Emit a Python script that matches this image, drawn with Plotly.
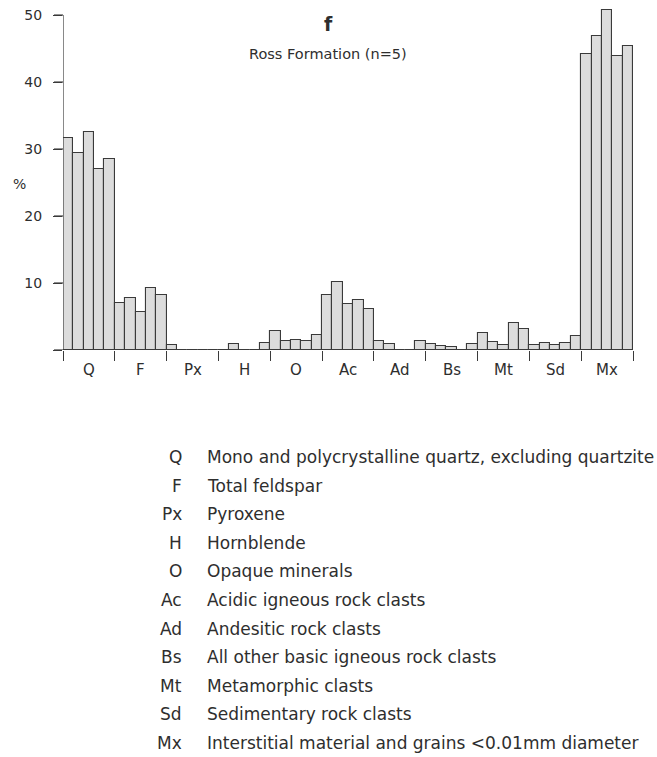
import plotly.graph_objects as go

categories = ["Q", "F", "Px", "H", "O", "Ac", "Ad", "Bs", "Mt", "Sd", "Mx"]
descriptions = [
    "Mono and polycrystalline quartz, excluding quartzite",
    "Total feldspar",
    "Pyroxene",
    "Hornblende",
    "Opaque minerals",
    "Acidic igneous rock clasts",
    "Andesitic rock clasts",
    "All other basic igneous rock clasts",
    "Metamorphic clasts",
    "Sedimentary rock clasts",
    "Interstitial material and grains <0.01mm diameter",
]
# five samples per category (%)
Q_vals = [31.6, 29.4, 32.5, 27.0, 28.5]
F_vals = [7.0, 7.7, 5.7, 9.3, 8.2]
Px_vals = [0.8, 0, 0, 0, 0]
H_vals = [0, 0.9, 0, 0, 1.0]
O_vals = [2.8, 1.3, 1.5, 1.3, 2.3]
Ac_vals = [8.2, 10.1, 6.8, 7.4, 6.1]
Ad_vals = [1.4, 0.85, 0, 0, 1.35]
Bs_vals = [0.85, 0.6, 0.45, 0, 0.85]
Mt_vals = [2.6, 1.2, 0.8, 4.0, 3.2]
Sd_vals = [0.8, 1.1, 0.7, 1.1, 2.1]
Mx_vals = [44.2, 46.8, 50.7, 43.9, 45.4]
y_ticks = [0, 10, 20, 30, 40, 50]

groups = [Q_vals, F_vals, Px_vals, H_vals, O_vals, Ac_vals, Ad_vals,
          Bs_vals, Mt_vals, Sd_vals, Mx_vals]
n = len(groups[0])
xs, ys = [], []
for gi, g in enumerate(groups):
    for si, v in enumerate(g):
        xs.append(gi * n + si + 0.5)
        ys.append(v)

TXT = "#2e2e2e"
LINE = "#3a3a3a"
FONT = "DejaVu Sans, Verdana, sans-serif"

fig = go.Figure()
fig.add_trace(go.Bar(
    x=xs, y=ys, width=1.0,
    marker=dict(color="#dcdcdc", line=dict(color=LINE, width=1.1)),
    hoverinfo="y", showlegend=False,
))

W, H = 657, 757
L, R, T, B = 63, 24, 5, 407
total = n * len(groups)
ymax = 51.5
pw = W - L - R
ph = H - T - B

fig.update_layout(
    width=W, height=H,
    margin=dict(l=L, r=R, t=T, b=B, pad=0),
    paper_bgcolor="white", plot_bgcolor="white",
    bargap=0,
    font=dict(family=FONT, color=TXT, size=14),
    xaxis=dict(range=[0, total], showgrid=False, zeroline=False, showline=False,
               tickmode="array", tickvals=[i * n for i in range(len(groups) + 1)],
               ticktext=["" for _ in range(len(groups) + 1)],
               ticks="outside", ticklen=10, tickwidth=1.2, tickcolor=LINE,
               fixedrange=True),
    yaxis=dict(range=[0, ymax], showgrid=False, zeroline=False, showline=False,
               tickmode="array", tickvals=y_ticks,
               ticktext=["" if t == 0 else str(t) for t in y_ticks],
               ticks="outside", ticklen=9, tickwidth=1.2, tickcolor=LINE,
               ticklabelstandoff=8,
               tickfont=dict(size=14, color=TXT), fixedrange=True),
)

# axis lines
fig.add_shape(type="line", xref="x", yref="y", x0=0, x1=0, y0=0, y1=50,
              line=dict(color=LINE, width=1.2))
fig.add_shape(type="line", xref="x", yref="y", x0=0, x1=total, y0=0, y1=0,
              line=dict(color=LINE, width=1.2))
# y tick marks (explicit, to the left of the axis)
for t in y_ticks:
    fig.add_shape(type="line", xref="paper", yref="y", x0=-9 / pw, x1=0,
                  y0=t, y1=t, line=dict(color=LINE, width=1.2))


def px2paper(px, py):
    return (px - L) / pw, (H - B - py) / ph

# group labels under axis
for gi, c in enumerate(categories):
    fig.add_annotation(x=gi * n + n / 2, y=0, xref="x", yref="y", text=c,
                       showarrow=False, yanchor="top", yshift=-9,
                       font=dict(size=15, color=TXT))

# % label
xp, yp = px2paper(19, 184)
fig.add_annotation(x=xp, y=yp, xref="paper", yref="paper", text="%",
                   showarrow=False, xanchor="center", yanchor="middle",
                   font=dict(size=14, color=TXT))

# titles
xp, yp = px2paper(328, 24)
fig.add_annotation(x=xp, y=yp, xref="paper", yref="paper", text="<b>f</b>",
                   showarrow=False, xanchor="center", yanchor="middle",
                   font=dict(size=19, color=TXT))
xp, yp = px2paper(328, 54)
fig.add_annotation(x=xp, y=yp, xref="paper", yref="paper",
                   text="Ross Formation (n=5)",
                   showarrow=False, xanchor="center", yanchor="middle",
                   font=dict(size=14.5, color=TXT))

# key
row0, dy = 457, 28.6
for i, (c, d) in enumerate(zip(categories, descriptions)):
    py = row0 + i * dy
    xa, ya = px2paper(184, py)
    fig.add_annotation(x=xa, y=ya, xref="paper", yref="paper", text=c,
                       showarrow=False, xanchor="right", yanchor="middle",
                       font=dict(size=17, color=TXT))
    xb, yb = px2paper(205, py)
    fig.add_annotation(x=xb, y=yb, xref="paper", yref="paper", text=d,
                       showarrow=False, xanchor="left", yanchor="middle",
                       font=dict(size=17, color=TXT))

fig.write_html("out.html")
